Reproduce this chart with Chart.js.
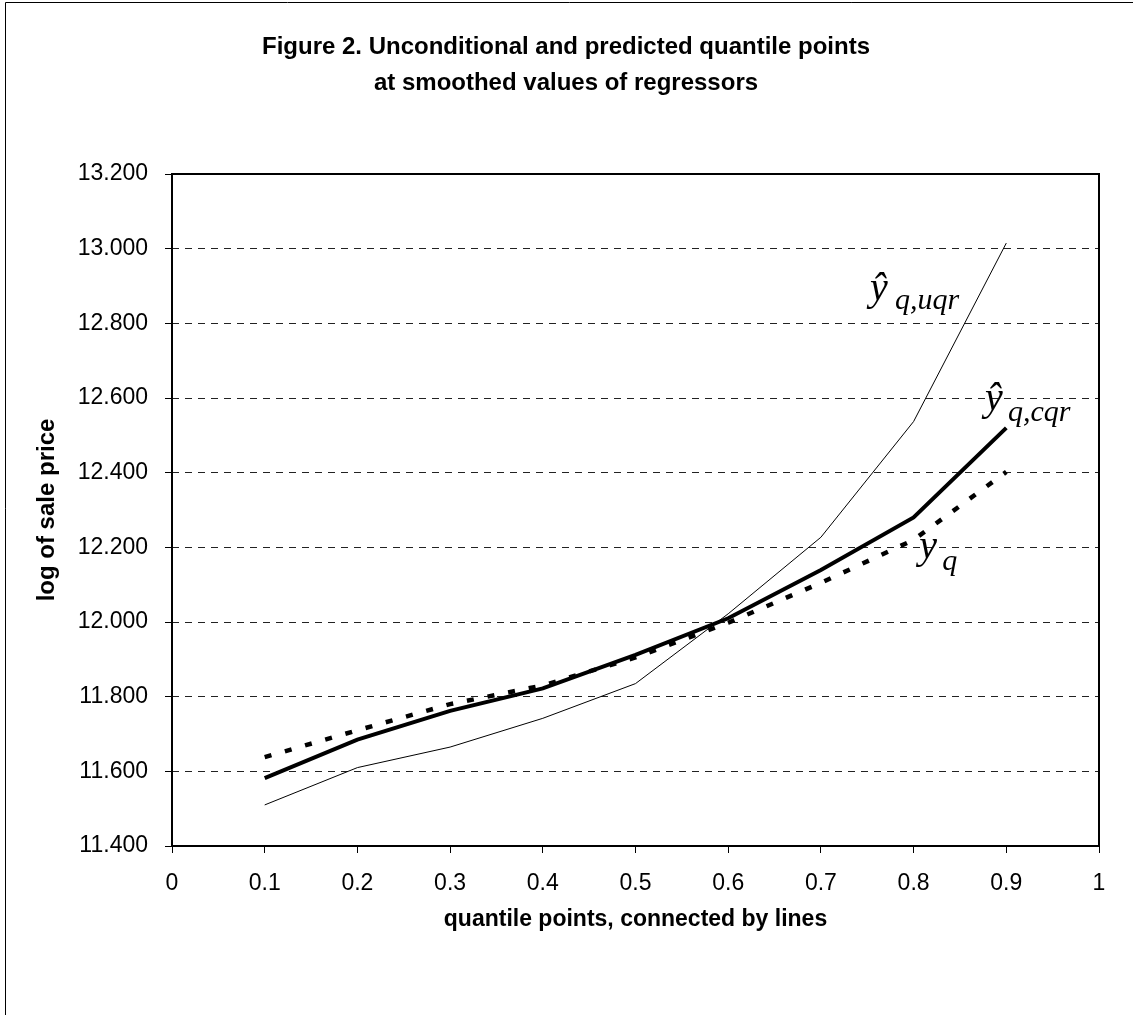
<!DOCTYPE html>
<html>
<head>
<meta charset="utf-8">
<script src="https://cdn.jsdelivr.net/npm/chart.js@4"></script>
<style>
  html, body { margin: 0; padding: 0; background: #fff; }
  #wrap { width: 1133px; height: 1015px; }
</style>
</head>
<body>
<div id="wrap"><canvas id="myChart" width="1133" height="1015"></canvas></div>
<script>
// quantile points on the x axis
var quantiles = [0.1, 0.2, 0.3, 0.4, 0.5, 0.6, 0.7, 0.8, 0.9];

// y-hat q,uqr (thin line)
var uqrValues = [11.51, 11.61, 11.665, 11.742, 11.835, 12.022, 12.227, 12.537, 13.015];
// y-hat q,cqr (thick line)
var cqrValues = [11.582, 11.685, 11.762, 11.822, 11.912, 12.01, 12.139, 12.28, 12.52];
// y q (dotted line)
var yqValues = [11.638, 11.71, 11.78, 11.83, 11.905, 11.998, 12.105, 12.22, 12.402];

var titleLines = ["Figure 2. Unconditional and predicted quantile points", "at smoothed values of regressors"];

// curve labels, anchored in data units
var curveLabels = [
  { main: "\u0177", sub: "q,uqr", x: 0.753, y: 12.863, subDx: 25, subDy: 9 },
  { main: "\u0177", sub: "q,cqr", x: 0.877, y: 12.568, subDx: 23, subDy: 11 },
  { main: "y", sub: "q", x: 0.806, y: 12.172, subDx: 23, subDy: 12 }
];

function toPoints(vals) {
  return vals.map(function (v, i) { return { x: quantiles[i], y: v }; });
}

// frame round the plot area and the page
var framePlugin = {
  id: "frame",
  beforeDraw: function (chart) {
    var c = chart.ctx;
    c.save();
    c.strokeStyle = "#000";
    c.lineWidth = 1;
    c.beginPath();
    c.moveTo(5.5, 1015);
    c.lineTo(5.5, 2.5);
    c.lineTo(1133, 2.5);
    c.stroke();
    c.restore();
  },
  beforeDatasetsDraw: function (chart) {
    var a = chart.chartArea;
    var c = chart.ctx;
    c.save();
    c.strokeStyle = "#000";
    c.lineWidth = 2;
    c.strokeRect(a.left, a.top, a.right - a.left, a.bottom - a.top);
    c.restore();
  }
};

var labelPlugin = {
  id: "curveLabels",
  afterDatasetsDraw: function (chart) {
    var c = chart.ctx;
    var xs = chart.scales.x, ys = chart.scales.y;
    c.save();
    c.fillStyle = "#000";
    c.textBaseline = "alphabetic";
    c.textAlign = "left";
    curveLabels.forEach(function (l) {
      var px = xs.getPixelForValue(l.x);
      var py = ys.getPixelForValue(l.y);
      c.font = "italic 40px 'Liberation Serif', 'Times New Roman', serif";
      c.fillText(l.main, px, py);
      c.font = "italic 30px 'Liberation Serif', 'Times New Roman', serif";
      c.fillText(l.sub, px + l.subDx, py + l.subDy);
    });
    c.restore();
  }
};

var ctx = document.getElementById("myChart").getContext("2d");

new Chart(ctx, {
  type: "line",
  data: {
    datasets: [{
      label: "uqr",
      data: toPoints(uqrValues),
      borderColor: "#000",
      borderWidth: 1,
      pointRadius: 0,
      fill: false,
      tension: 0
    }, {
      label: "yq",
      data: toPoints(yqValues),
      borderColor: "#000",
      borderWidth: 4.5,
      borderDash: [7, 14],
      borderCapStyle: "butt",
      pointRadius: 0,
      fill: false,
      tension: 0
    }, {
      label: "cqr",
      data: toPoints(cqrValues),
      borderColor: "#000",
      borderWidth: 4,
      pointRadius: 0,
      fill: false,
      tension: 0
    }]
  },
  options: {
    responsive: false,
    animation: false,
    layout: { padding: { left: 33, right: 34, top: 0, bottom: 82 } },
    plugins: {
      legend: { display: false },
      tooltip: { enabled: false },
      title: {
        display: true,
        text: titleLines,
        color: "#000",
        font: { family: "'Liberation Sans', Arial, sans-serif", size: 24, weight: "bold", lineHeight: 1.5 },
        padding: { top: 29, bottom: 73 }
      }
    },
    scales: {
      x: {
        type: "linear",
        min: 0,
        max: 1,
        afterFit: function (s) { s.height = 87; },
        ticks: {
          stepSize: 0.1,
          color: "#000",
          padding: 17,
          maxRotation: 0,
          font: { family: "'Liberation Sans', Arial, sans-serif", size: 23 },
          callback: function (v) { return String(Math.round(v * 10) / 10); }
        },
        grid: {
          drawOnChartArea: false,
          drawTicks: true,
          tickLength: 7,
          tickColor: "#000",
          tickWidth: 1
        },
        border: { display: false },
        title: {
          display: true,
          text: "quantile points, connected by lines",
          color: "#000",
          font: { family: "'Liberation Sans', Arial, sans-serif", size: 23, weight: "bold" },
          padding: { top: 4, bottom: 0 }
        }
      },
      y: {
        min: 11.4,
        max: 13.2,
        afterFit: function (s) { s.width = 139; },
        ticks: {
          stepSize: 0.2,
          color: "#000",
          padding: 17,
          font: { family: "'Liberation Sans', Arial, sans-serif", size: 23 },
          callback: function (v) { return v.toFixed(3); }
        },
        grid: {
          color: "#222",
          lineWidth: 1,
          tickLength: 7,
          tickColor: "#000",
          tickBorderDash: []
        },
        border: { display: false, dash: [7, 6] },
        title: {
          display: true,
          text: "log of sale price",
          color: "#000",
          font: { family: "'Liberation Sans', Arial, sans-serif", size: 24, weight: "bold" },
          padding: { top: 0, bottom: 0 }
        }
      }
    }
  },
  plugins: [framePlugin, labelPlugin]
});
</script>
</body>
</html>
